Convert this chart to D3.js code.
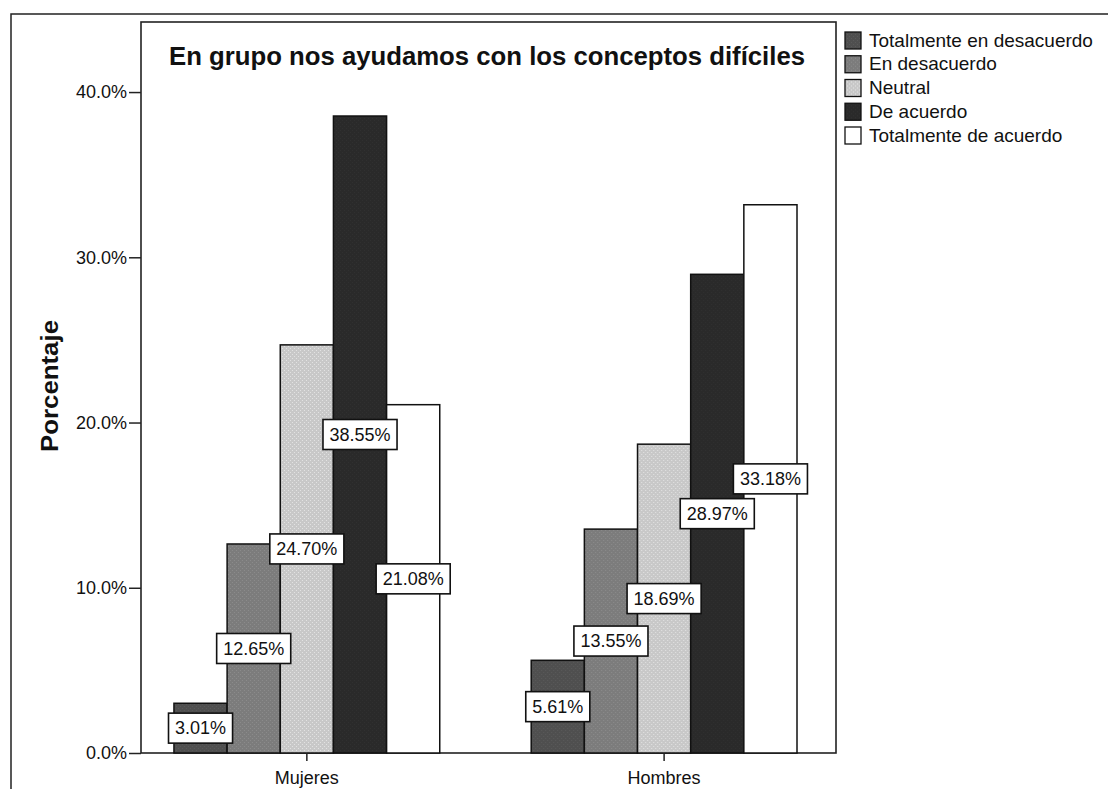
<!DOCTYPE html>
<html>
<head>
<meta charset="utf-8">
<script src="https://cdn.jsdelivr.net/npm/d3@7"></script>
<style>
  html, body { margin: 0; padding: 0; background: #fff; }
  svg { display: block; }
  text { font-family: "Liberation Sans", Arial, Helvetica, sans-serif; fill: #111; }
</style>
</head>
<body>
<svg id="chart" width="1108" height="789"></svg>
<script>
// ---- data ----
const categories = ["Mujeres", "Hombres"];
const seriesNames = ["Totalmente en desacuerdo", "En desacuerdo", "Neutral", "De acuerdo", "Totalmente de acuerdo"];
const mujeresValues = [3.01, 12.65, 24.70, 38.55, 21.08];
const hombresValues = [5.61, 13.55, 18.69, 28.97, 33.18];
const yTicks = [0, 10, 20, 30, 40];
const titleText = "En grupo nos ayudamos con los conceptos difíciles";
const yLabel = "Porcentaje";
const seriesColors = ["#4f4f4f", "#7c7c7c", "#c8c8c8", "#2a2a2a", "#ffffff"];

const valuesByCategory = { "Mujeres": mujeresValues, "Hombres": hombresValues };

// ---- layout ----
const plot = { left: 141, right: 836, top: 22, bottom: 753 };
const svg = d3.select("#chart");

// outer frame
svg.append("rect")
  .attr("x", 11).attr("y", 14)
  .attr("width", 1200).attr("height", 900)
  .attr("fill", "none").attr("stroke", "#222").attr("stroke-width", 1.5);

const x0 = d3.scaleBand()
  .domain(categories)
  .range([plot.left, plot.right])
  .paddingInner(0.256)
  .paddingOuter(0.1007)
  .align(0.458);

const x1 = d3.scaleBand()
  .domain(seriesNames)
  .range([0, x0.bandwidth()])
  .padding(0);

const y = d3.scaleLinear()
  .domain([0, 44.24])
  .range([plot.bottom, plot.top]);

// texture pattern ids (subtle speckle for scanned look)
const defs = svg.append("defs");
seriesColors.forEach((c, i) => {
  const p = defs.append("pattern")
    .attr("id", "tex" + i)
    .attr("patternUnits", "userSpaceOnUse")
    .attr("width", 4).attr("height", 4);
  p.append("rect").attr("width", 4).attr("height", 4).attr("fill", c);
  if (i !== 4) {
    const lighter = d3.color(c).brighter(0.35);
    p.append("rect").attr("x", 0).attr("y", 0).attr("width", 1).attr("height", 1).attr("fill", lighter);
    p.append("rect").attr("x", 2).attr("y", 2).attr("width", 1).attr("height", 1).attr("fill", lighter);
  }
});

// plot frame
svg.append("rect")
  .attr("x", plot.left).attr("y", plot.top)
  .attr("width", plot.right - plot.left).attr("height", plot.bottom - plot.top)
  .attr("fill", "#fff").attr("stroke", "#222").attr("stroke-width", 1.6);

// bars
const groups = svg.append("g").selectAll("g")
  .data(categories)
  .join("g")
  .attr("transform", d => `translate(${x0(d)},0)`);

groups.selectAll("rect")
  .data(cat => valuesByCategory[cat].map((v, i) => ({ cat, name: seriesNames[i], i, v })))
  .join("rect")
  .attr("x", d => x1(d.name))
  .attr("y", d => y(d.v))
  .attr("width", x1.bandwidth())
  .attr("height", d => y(0) - y(d.v))
  .attr("fill", d => `url(#tex${d.i})`)
  .attr("stroke", "#111")
  .attr("stroke-width", 1.5);

// value labels (boxes at half bar height)
const labels = groups.selectAll("g.lab")
  .data(cat => valuesByCategory[cat].map((v, i) => ({ cat, name: seriesNames[i], i, v })))
  .join("g")
  .attr("class", "lab")
  .attr("transform", d => `translate(${x1(d.name) + x1.bandwidth() / 2},${y(d.v / 2)})`);

labels.each(function(d) {
  const g = d3.select(this);
  const rect = g.append("rect");
  const t = g.append("text")
    .attr("text-anchor", "middle")
    .attr("dy", "0.35em")
    .style("font-size", "18px")
    .text(d.v.toFixed(2) + "%");
  const w = t.node().getComputedTextLength() + 13;
  rect.attr("x", -w / 2).attr("y", -15)
    .attr("width", w).attr("height", 30)
    .attr("fill", "#fff").attr("stroke", "#111").attr("stroke-width", 1.6);
});

// y axis
const yAxis = d3.axisLeft(y)
  .tickValues(yTicks)
  .tickSize(12)
  .tickPadding(2)
  .tickFormat(d => d3.format(".1f")(d) + "%");
const ya = svg.append("g")
  .attr("transform", `translate(${plot.left},0)`)
  .call(yAxis);
ya.select(".domain").remove();
ya.selectAll(".tick line").attr("stroke", "#222").attr("stroke-width", 1.5);
ya.selectAll(".tick text").style("font-size", "18px").attr("fill", "#111")
  .style("font-family", '"Liberation Sans", Arial, sans-serif');

// x axis
const xAxis = d3.axisBottom(x0).tickSize(8).tickPadding(10);
const xa = svg.append("g")
  .attr("transform", `translate(0,${plot.bottom})`)
  .call(xAxis);
xa.select(".domain").remove();
xa.selectAll(".tick line").attr("stroke", "#222").attr("stroke-width", 1.5);
xa.selectAll(".tick text").style("font-size", "18px").attr("fill", "#111")
  .style("font-family", '"Liberation Sans", Arial, sans-serif');

// title
svg.append("text")
  .attr("x", 169).attr("y", 65)
  .attr("textLength", 636)
  .attr("lengthAdjust", "spacingAndGlyphs")
  .style("font-size", "25px").style("font-weight", "bold")
  .text(titleText);

// y label
svg.append("text")
  .attr("transform", `translate(58,386) rotate(-90)`)
  .attr("text-anchor", "middle")
  .attr("textLength", 132)
  .attr("lengthAdjust", "spacingAndGlyphs")
  .style("font-size", "23px").style("font-weight", "bold")
  .text(yLabel);

// legend
const legend = svg.append("g").attr("transform", "translate(845,40)");
const rows = legend.selectAll("g")
  .data(seriesNames)
  .join("g")
  .attr("transform", (d, i) => `translate(0,${i * 23.75})`);
rows.append("rect")
  .attr("x", 0).attr("y", -8)
  .attr("width", 16).attr("height", 17)
  .attr("fill", (d, i) => `url(#tex${i})`)
  .attr("stroke", "#111").attr("stroke-width", 1.3);
rows.append("text")
  .attr("x", 24).attr("y", 0)
  .attr("dy", "0.35em")
  .style("font-size", "19px")
  .text(d => d);
</script>
</body>
</html>
